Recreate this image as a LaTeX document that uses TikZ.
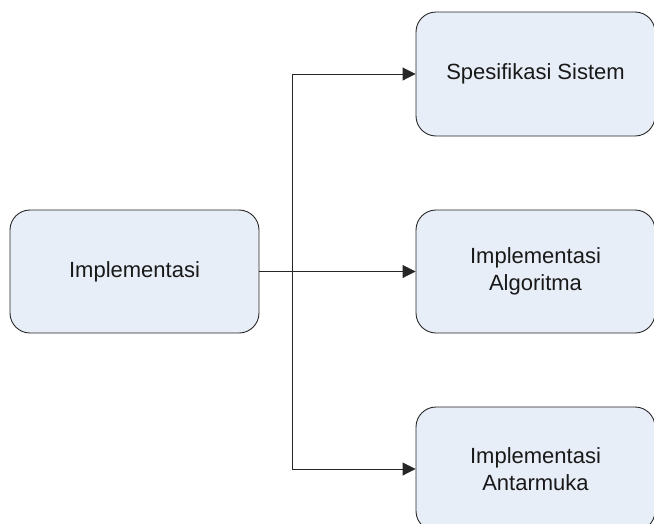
\documentclass[tikz,border=0pt]{standalone}
\usepackage{fontspec}
\setmainfont{Liberation Sans}
\usetikzlibrary{arrows.meta, positioning}
\definecolor{boxfill}{HTML}{E8EEF8}

\begin{document}
\begin{tikzpicture}[x=1pt, y=-1pt,
    box/.style={rectangle, rounded corners=20pt, draw=black!85, fill=boxfill, line width=0.9pt,
                text centered, align=center, font=\fontsize{22}{27}\selectfont, text=black!90},
    arrow/.style={-{Triangle[length=13pt, width=13pt]}, line width=0.9pt, draw=black!85}]

    \useasboundingbox (0,0) rectangle (654,523);
    \clip (0,0) rectangle (654,523);

    % Nodes
    \node[box, minimum width=249pt, minimum height=123pt] (impl) at (134.5,271.5) {Implementasi};
    \node[box, minimum width=239pt, minimum height=124pt] (spec) at (535.5,74) {Spesifikasi Sistem};
    \node[box, minimum width=239pt, minimum height=123pt] (algo) at (535.5,271.5) {Implementasi\\Algoritma};
    \node[box, minimum width=239pt, minimum height=124pt] (antar) at (535.5,469) {Implementasi\\Antarmuka};
    \coordinate (split) at (292,271.5);

    % Arrows
    \draw[arrow] (impl) -- (algo);
    \draw[arrow] (split) |- (spec.west);
    \draw[arrow] (split) |- (antar.west);

\end{tikzpicture}
\end{document}
